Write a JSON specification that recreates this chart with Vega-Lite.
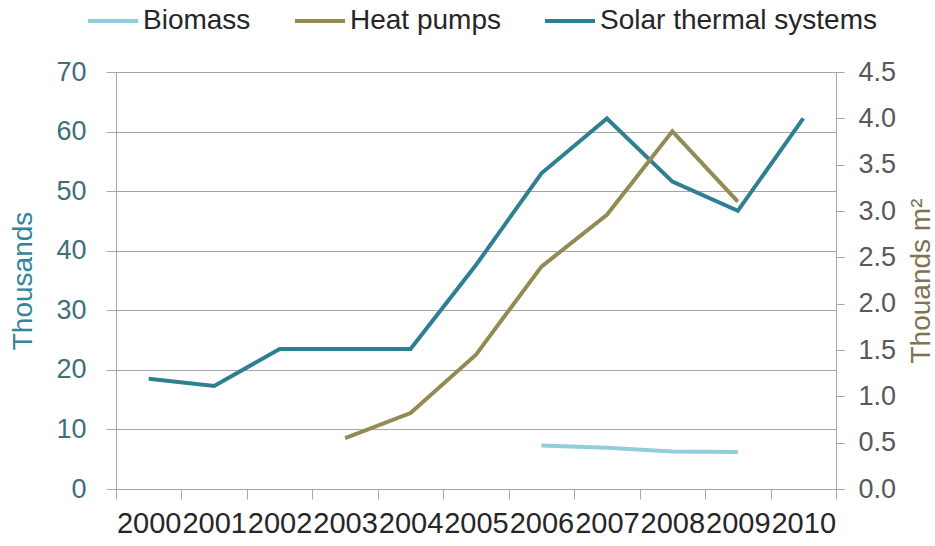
{
  "$schema": "https://vega.github.io/schema/vega-lite/v6.json",
  "width": 720,
  "height": 417,
  "autosize": {"type": "none"},
  "padding": {"left": 116, "top": 72, "right": 99, "bottom": 57},
  "background": "white",
  "config": {
    "font": "Liberation Sans",
    "view": {"stroke": null},
    "axis": {"labelFont": "Liberation Sans", "titleFont": "Liberation Sans", "titleFontWeight": "normal"}
  },
  "data": {
    "values": [
      {"series": "Solar thermal systems", "year": 2000, "value": 18.5},
      {"series": "Solar thermal systems", "year": 2001, "value": 17.3},
      {"series": "Solar thermal systems", "year": 2002, "value": 23.5},
      {"series": "Solar thermal systems", "year": 2003, "value": 23.5},
      {"series": "Solar thermal systems", "year": 2004, "value": 23.5},
      {"series": "Solar thermal systems", "year": 2005, "value": 37.6},
      {"series": "Solar thermal systems", "year": 2006, "value": 53.0},
      {"series": "Solar thermal systems", "year": 2007, "value": 62.2},
      {"series": "Solar thermal systems", "year": 2008, "value": 51.6},
      {"series": "Solar thermal systems", "year": 2009, "value": 46.7},
      {"series": "Solar thermal systems", "year": 2010, "value": 62.2},
      {"series": "Heat pumps", "year": 2003, "value": 0.55},
      {"series": "Heat pumps", "year": 2004, "value": 0.82},
      {"series": "Heat pumps", "year": 2005, "value": 1.45},
      {"series": "Heat pumps", "year": 2006, "value": 2.4},
      {"series": "Heat pumps", "year": 2007, "value": 2.96},
      {"series": "Heat pumps", "year": 2008, "value": 3.86},
      {"series": "Heat pumps", "year": 2009, "value": 3.1},
      {"series": "Biomass", "year": 2006, "value": 0.47},
      {"series": "Biomass", "year": 2007, "value": 0.445},
      {"series": "Biomass", "year": 2008, "value": 0.405},
      {"series": "Biomass", "year": 2009, "value": 0.4}
    ]
  },
  "encoding": {
    "x": {
      "field": "year",
      "type": "quantitative",
      "scale": {"domain": [1999.5, 2010.5], "nice": false, "zero": false},
      "axis": {
        "title": null,
        "values": [1999.5, 2000.5, 2001.5, 2002.5, 2003.5, 2004.5, 2005.5, 2006.5, 2007.5, 2008.5, 2009.5, 2010.5],
        "labelExpr": "datum.value < 2010 ? format(datum.value + 0.5, 'd') : ''",
        "labelOffset": 32.7,
        "labelFlush": false,
        "labelOverlap": false,
        "labelFontSize": 29,
        "labelColor": "#262626",
        "labelPadding": 10,
        "tickSize": 10,
        "tickColor": "#A6A6A6",
        "domainColor": "#A6A6A6",
        "grid": false
      }
    },
    "color": {
      "field": "series",
      "type": "nominal",
      "scale": {
        "domain": ["Biomass", "Heat pumps", "Solar thermal systems"],
        "range": ["#92CDDC", "#948A54", "#2E7F92"]
      },
      "legend": {
        "title": null,
        "orient": "none",
        "direction": "horizontal",
        "legendX": -30,
        "legendY": -78,
        "symbolType": "stroke",
        "symbolSize": 2500,
        "symbolStrokeWidth": 4,
        "labelFontSize": 28,
        "labelColor": "#262626",
        "labelOffset": 3,
        "columnPadding": 36,
        "labelLimit": 400
      }
    }
  },
  "layer": [
    {
      "transform": [{"filter": "datum.series == 'Solar thermal systems'"}],
      "mark": {"type": "line", "strokeWidth": 4},
      "encoding": {
        "y": {
          "field": "value",
          "type": "quantitative",
          "scale": {"domain": [0, 70], "nice": false},
          "axis": {
            "orient": "left",
            "title": "Thousands",
            "values": [0, 10, 20, 30, 40, 50, 60, 70],
            "grid": true,
            "gridColor": "#A6A6A6",
            "tickSize": 10,
            "tickColor": "#A6A6A6",
            "domainColor": "#A6A6A6",
            "labelFontSize": 27,
            "labelColor": "#3F6F7A",
            "labelPadding": 20,
            "titleFontSize": 28,
            "titleColor": "#31859C",
            "titlePadding": 18
          }
        }
      }
    },
    {
      "transform": [{"filter": "datum.series != 'Solar thermal systems'"}],
      "mark": {"type": "line", "strokeWidth": 4},
      "encoding": {
        "y": {
          "field": "value",
          "type": "quantitative",
          "scale": {"domain": [0, 4.5], "nice": false},
          "axis": {
            "orient": "right",
            "title": "Thouands m²",
            "values": [0, 0.5, 1, 1.5, 2, 2.5, 3, 3.5, 4, 4.5],
            "format": ".1f",
            "grid": false,
            "tickSize": 8,
            "tickColor": "#A6A6A6",
            "domainColor": "#A6A6A6",
            "labelFontSize": 27,
            "labelColor": "#595959",
            "labelPadding": 14,
            "titleFontSize": 28,
            "titleColor": "#7F7350",
            "titleAngle": 270,
            "titleBaseline": "top",
            "titlePadding": 12
          }
        }
      }
    }
  ],
  "resolve": {"scale": {"y": "independent"}, "axis": {"y": "independent"}}
}
